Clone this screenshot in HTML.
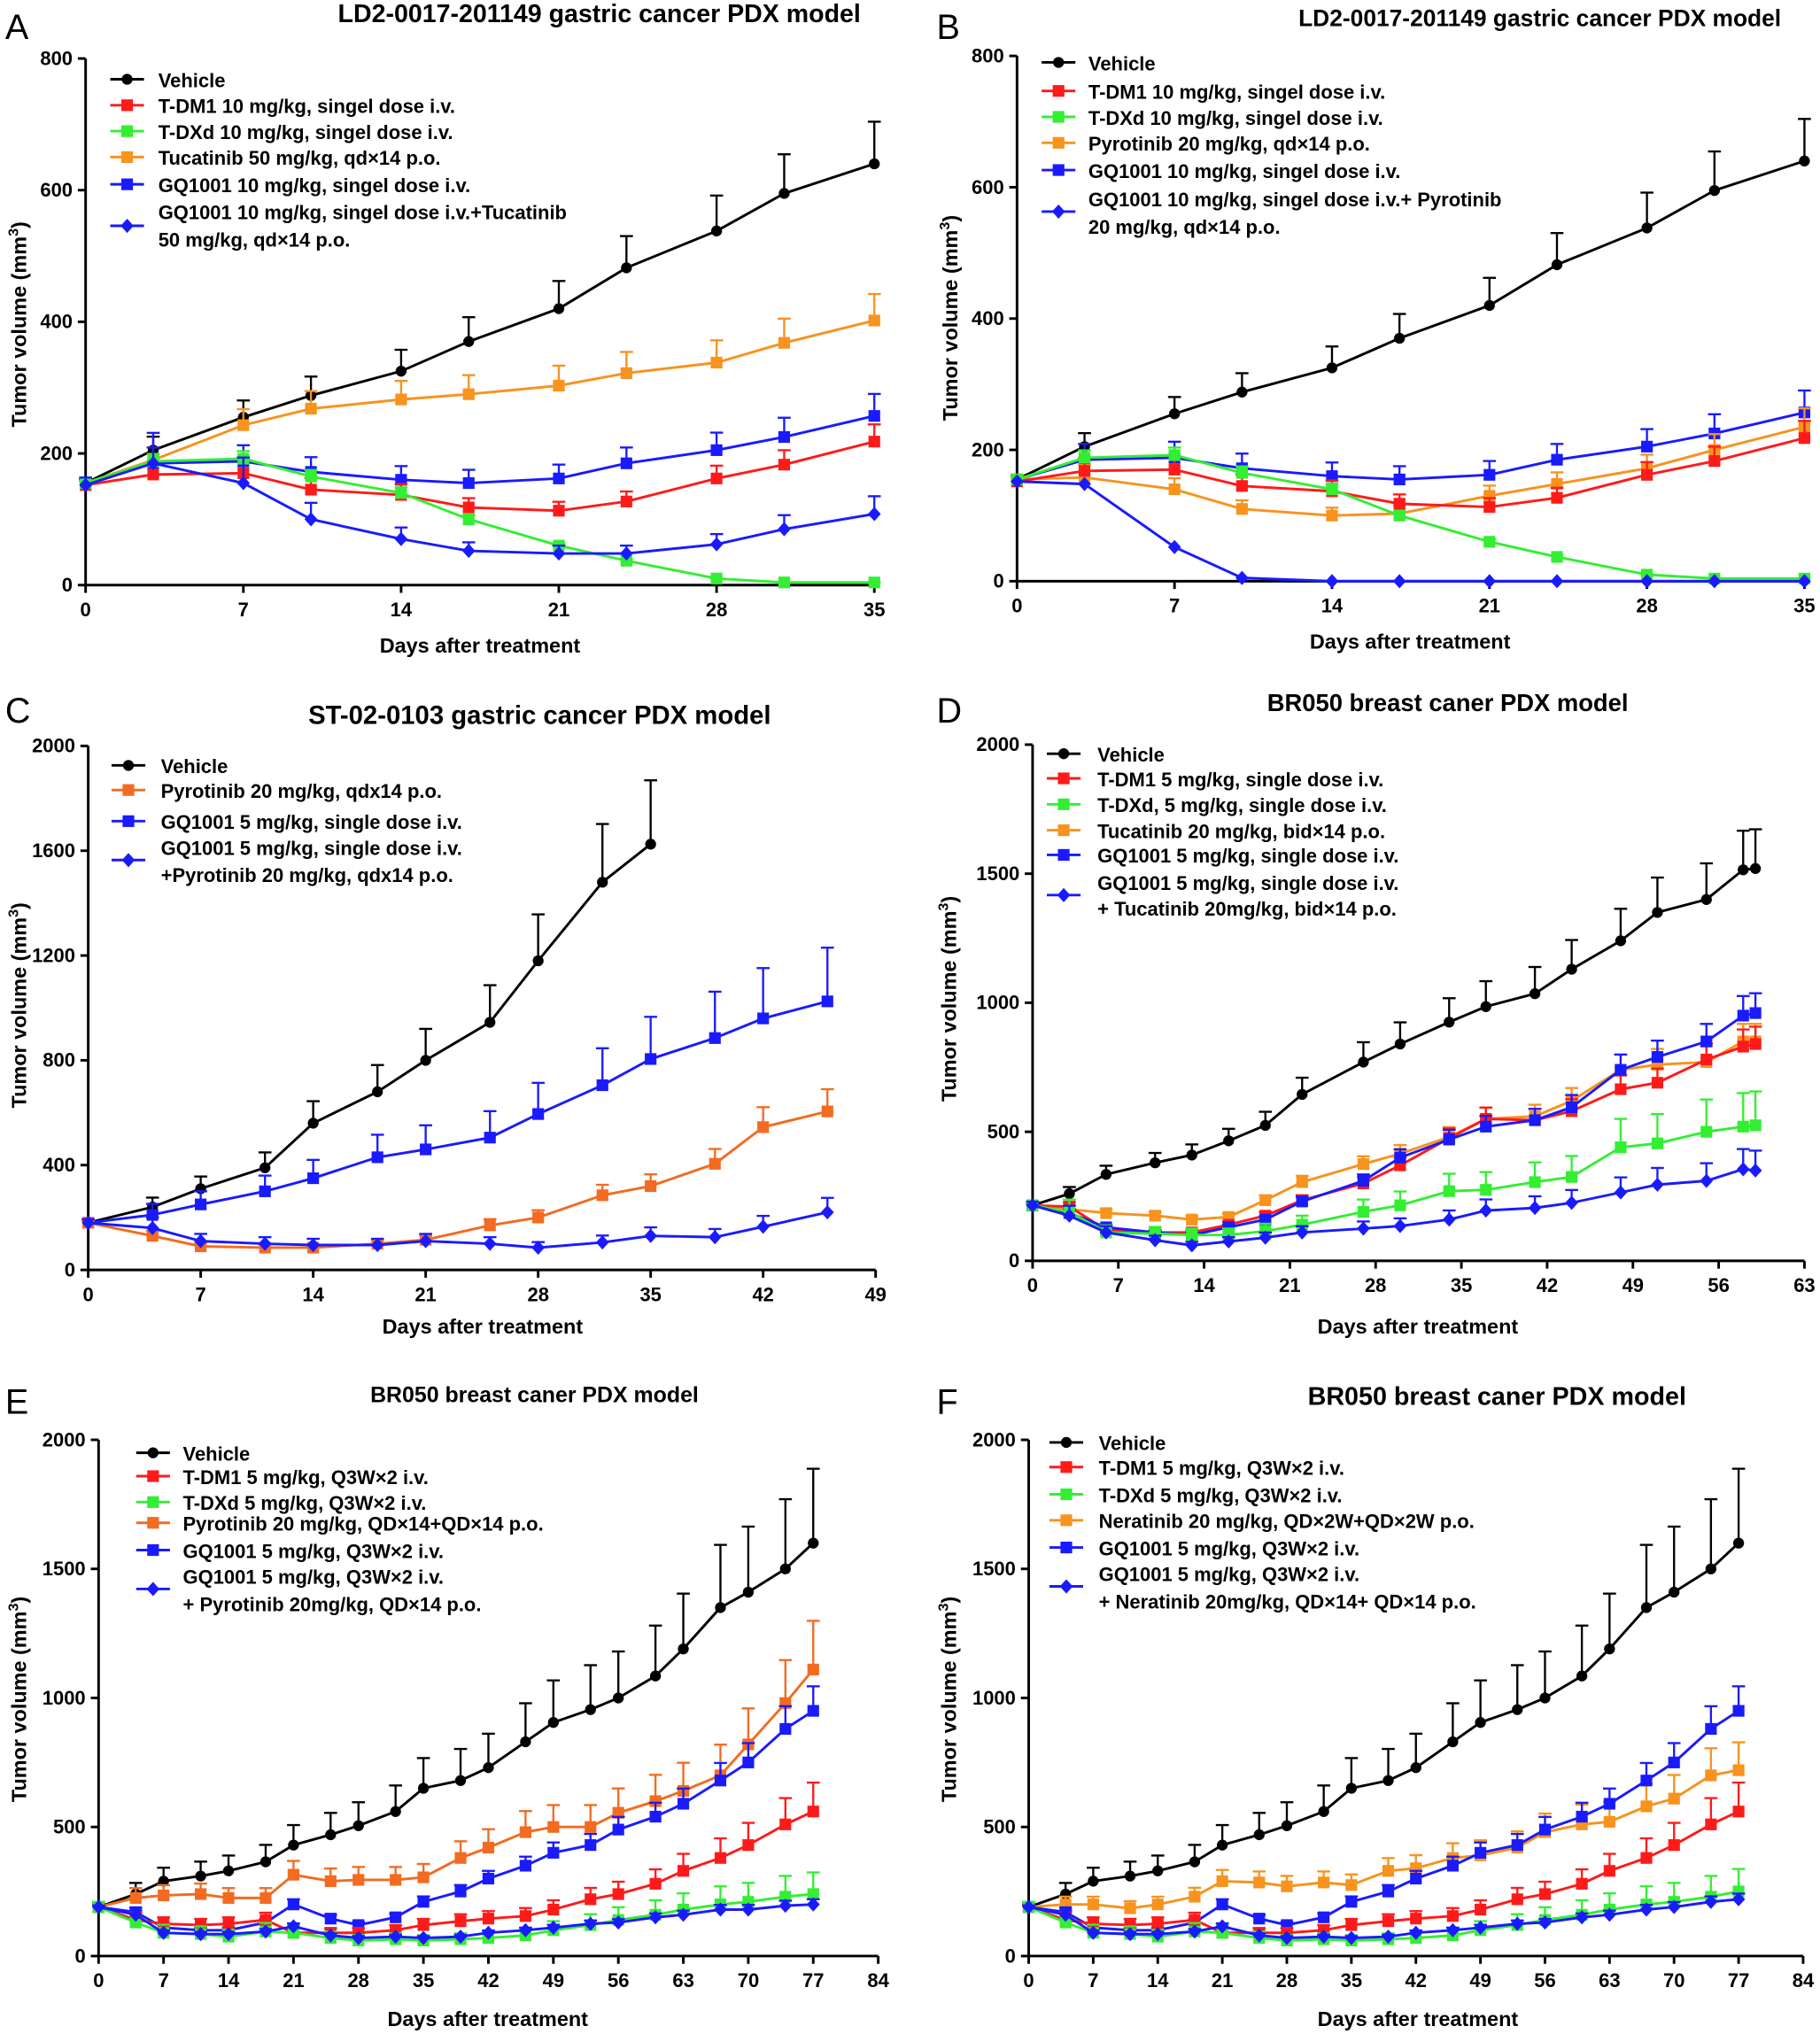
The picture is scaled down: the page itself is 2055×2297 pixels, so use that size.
<!DOCTYPE html>
<html><head><meta charset="utf-8"><style>
html,body{margin:0;padding:0;background:#fff}
svg{display:block}
text{font-family:"Liberation Sans",Arial,sans-serif;font-weight:bold;fill:#000}
.t{font-size:15px}
.tk{font-size:15px}
.ti{font-size:17.5px}
.ax{font-size:16px}
.lt{font-size:27px;font-weight:normal}
</style></head><body>
<svg id="s" width="2055" height="2297" viewBox="0 0 1403 1568" xmlns="http://www.w3.org/2000/svg">
<g id="g"></g>
<text class="lt" x="4" y="30">A</text>
<text class="lt" x="722" y="30">B</text>
<text class="lt" x="4" y="557">C</text>
<text class="lt" x="722" y="557">D</text>
<text class="lt" x="4" y="1090">E</text>
<text class="lt" x="722" y="1090">F</text>
<text class="ti" x="462" y="17" text-anchor="middle" style="font-size:19.5px">LD2-0017-201149 gastric cancer PDX model</text>
<text class="ti" x="1187" y="20" text-anchor="middle" style="font-size:18px">LD2-0017-201149 gastric cancer PDX model</text>
<text class="ti" x="416" y="558" text-anchor="middle" style="font-size:20px">ST-02-0103 gastric cancer PDX model</text>
<text class="ti" x="1116" y="548" text-anchor="middle" style="font-size:18.7px">BR050 breast caner PDX model</text>
<text class="ti" x="412" y="1081" text-anchor="middle" style="font-size:17px">BR050 breast caner PDX model</text>
<text class="ti" x="1154" y="1083" text-anchor="middle" style="font-size:19.6px">BR050 breast caner PDX model</text>
<text class="ax" x="370" y="503" text-anchor="middle">Days after treatment</text>
<text class="ax" x="1087" y="500" text-anchor="middle">Days after treatment</text>
<text class="ax" x="372" y="1028" text-anchor="middle">Days after treatment</text>
<text class="ax" x="1093" y="1028" text-anchor="middle">Days after treatment</text>
<text class="ax" x="376" y="1562" text-anchor="middle">Days after treatment</text>
<text class="ax" x="1093" y="1562" text-anchor="middle">Days after treatment</text>
<text class="ax" transform="translate(20,250) rotate(-90)" text-anchor="middle">Tumor volume (mm<tspan dy="-6" font-size="11">3</tspan><tspan dy="6">)</tspan></text>
<text class="ax" transform="translate(738,245) rotate(-90)" text-anchor="middle">Tumor volume (mm<tspan dy="-6" font-size="11">3</tspan><tspan dy="6">)</tspan></text>
<text class="ax" transform="translate(20,775) rotate(-90)" text-anchor="middle">Tumor volume (mm<tspan dy="-6" font-size="11">3</tspan><tspan dy="6">)</tspan></text>
<text class="ax" transform="translate(737,770) rotate(-90)" text-anchor="middle">Tumor volume (mm<tspan dy="-6" font-size="11">3</tspan><tspan dy="6">)</tspan></text>
<text class="ax" transform="translate(20,1310) rotate(-90)" text-anchor="middle">Tumor volume (mm<tspan dy="-6" font-size="11">3</tspan><tspan dy="6">)</tspan></text>
<text class="ax" transform="translate(737,1310) rotate(-90)" text-anchor="middle">Tumor volume (mm<tspan dy="-6" font-size="11">3</tspan><tspan dy="6">)</tspan></text>
<g class="tk" text-anchor="middle">
<text x="66" y="475">0</text><text x="187.6" y="475">7</text><text x="309.2" y="475">14</text><text x="430.8" y="475">21</text><text x="552.4" y="475">28</text><text x="674" y="475">35</text>
<text x="784" y="472">0</text><text x="905.4" y="472">7</text><text x="1026.8" y="472">14</text><text x="1148.2" y="472">21</text><text x="1269.6" y="472">28</text><text x="1391" y="472">35</text>
<text x="68" y="1003">0</text><text x="154.7" y="1003">7</text><text x="241.4" y="1003">14</text><text x="328.1" y="1003">21</text><text x="414.9" y="1003">28</text><text x="501.6" y="1003">35</text><text x="588.3" y="1003">42</text><text x="675" y="1003">49</text>
<text x="796" y="996">0</text><text x="862.1" y="996">7</text><text x="928.2" y="996">14</text><text x="994.3" y="996">21</text><text x="1060.4" y="996">28</text><text x="1126.6" y="996">35</text><text x="1192.7" y="996">42</text><text x="1258.8" y="996">49</text><text x="1324.9" y="996">56</text><text x="1391" y="996">63</text>
<text x="76" y="1532">0</text><text x="126.1" y="1532">7</text><text x="176.2" y="1532">14</text><text x="226.3" y="1532">21</text><text x="276.3" y="1532">28</text><text x="326.4" y="1532">35</text><text x="376.5" y="1532">42</text><text x="426.6" y="1532">49</text><text x="476.7" y="1532">56</text><text x="526.8" y="1532">63</text><text x="576.9" y="1532">70</text><text x="626.9" y="1532">77</text><text x="677" y="1532">84</text>
<text x="793" y="1532">0</text><text x="842.75" y="1532">7</text><text x="892.5" y="1532">14</text><text x="942.25" y="1532">21</text><text x="992" y="1532">28</text><text x="1041.75" y="1532">35</text><text x="1091.5" y="1532">42</text><text x="1141.25" y="1532">49</text><text x="1191" y="1532">56</text><text x="1240.75" y="1532">63</text><text x="1290.5" y="1532">70</text><text x="1340.25" y="1532">77</text><text x="1390" y="1532">84</text>
</g>
<g class="tk" text-anchor="end">
<text x="56" y="456">0</text><text x="56" y="354.5">200</text><text x="56" y="253">400</text><text x="56" y="151.5">600</text><text x="56" y="50">800</text>
<text x="774" y="453">0</text><text x="774" y="351.75">200</text><text x="774" y="250.5">400</text><text x="774" y="149.25">600</text><text x="774" y="48">800</text>
<text x="58" y="984">0</text><text x="58" y="903.2">400</text><text x="58" y="822.4">800</text><text x="58" y="741.6">1200</text><text x="58" y="660.8">1600</text><text x="58" y="580">2000</text>
<text x="786" y="977">0</text><text x="786" y="877.5">500</text><text x="786" y="778">1000</text><text x="786" y="678.5">1500</text><text x="786" y="579">2000</text>
<text x="66" y="1513">0</text><text x="66" y="1413.5">500</text><text x="66" y="1314">1000</text><text x="66" y="1214.5">1500</text><text x="66" y="1115">2000</text>
<text x="783" y="1513">0</text><text x="783" y="1413.5">500</text><text x="783" y="1314">1000</text><text x="783" y="1214.5">1500</text><text x="783" y="1115">2000</text>
</g>
<g class="t">
<text x="122" y="67">Vehicle</text><text x="122" y="87">T-DM1 10 mg/kg, singel dose i.v.</text><text x="122" y="107">T-DXd 10 mg/kg, singel dose i.v.</text><text x="122" y="127">Tucatinib 50 mg/kg, qd×14 p.o.</text><text x="122" y="148">GQ1001 10 mg/kg, singel dose i.v.</text><text x="122" y="169">GQ1001 10 mg/kg, singel dose i.v.+Tucatinib</text><text x="122" y="190">50 mg/kg,  qd×14 p.o.</text>
<text x="839" y="54">Vehicle</text><text x="839" y="76">T-DM1 10 mg/kg, singel dose i.v.</text><text x="839" y="96">T-DXd 10 mg/kg, singel dose i.v.</text><text x="839" y="116">Pyrotinib 20 mg/kg,  qd×14 p.o.</text><text x="839" y="137">GQ1001 10 mg/kg, singel dose i.v.</text><text x="839" y="159">GQ1001 10 mg/kg, singel dose i.v.+ Pyrotinib</text><text x="839" y="180">20 mg/kg,  qd×14 p.o.</text>
<text x="124" y="596">Vehicle</text><text x="124" y="615">Pyrotinib 20 mg/kg, qdx14 p.o.</text><text x="124" y="639">GQ1001 5 mg/kg, single dose i.v.</text><text x="124" y="659">GQ1001 5 mg/kg, single dose i.v.</text><text x="124" y="680">+Pyrotinib 20 mg/kg, qdx14 p.o.</text>
<text x="846" y="587">Vehicle</text><text x="846" y="606">T-DM1 5 mg/kg, single dose i.v.</text><text x="846" y="626">T-DXd, 5 mg/kg, single dose i.v.</text><text x="846" y="646">Tucatinib 20 mg/kg, bid×14 p.o.</text><text x="846" y="665">GQ1001 5 mg/kg, single dose i.v.</text><text x="846" y="686">GQ1001 5 mg/kg, single dose i.v.</text><text x="846" y="706">+ Tucatinib 20mg/kg, bid×14 p.o.</text>
<text x="141" y="1126">Vehicle</text><text x="141" y="1144">T-DM1 5 mg/kg, Q3W×2 i.v.</text><text x="141" y="1164">T-DXd 5 mg/kg, Q3W×2 i.v.</text><text x="141" y="1180">Pyrotinib 20 mg/kg, QD×14+QD×14 p.o.</text><text x="141" y="1201">GQ1001 5 mg/kg, Q3W×2 i.v.</text><text x="141" y="1221">GQ1001 5 mg/kg, Q3W×2 i.v.</text><text x="141" y="1242">+ Pyrotinib 20mg/kg, QD×14 p.o.</text>
<text x="847" y="1118">Vehicle</text><text x="847" y="1137">T-DM1 5 mg/kg, Q3W×2 i.v.</text><text x="847" y="1158">T-DXd 5 mg/kg, Q3W×2 i.v.</text><text x="847" y="1178">Neratinib 20 mg/kg, QD×2W+QD×2W p.o.</text><text x="847" y="1199">GQ1001 5 mg/kg, Q3W×2 i.v.</text><text x="847" y="1219">GQ1001 5 mg/kg, Q3W×2 i.v.</text><text x="847" y="1240">+ Neratinib 20mg/kg, QD×14+ QD×14 p.o.</text>
</g>
</svg>
<script>
var NS="http://www.w3.org/2000/svg",G=document.getElementById('g');
function el(t,a){var e=document.createElementNS(NS,t);for(var k in a)e.setAttribute(k,a[k]);G.appendChild(e);return e;}
var K='#000',R='#ff1a1a',Gr='#33ee33',O='#f7931e',O2='#f26b21',B='#1a1aff';
function marker(type,x,y,c,s){s=s||1;
 if(type=='c')el('circle',{cx:x,cy:y,r:4.2*s,fill:c});
 else if(type=='s')el('rect',{x:x-4.5*s,y:y-4.5*s,width:9*s,height:9*s,fill:c});
 else el('polygon',{points:[x,y-5.5*s,x+5*s,y,x,y+5.5*s,x-5*s,y].join(' '),fill:c});}
function panel(p){
 var X=function(d){return p.x0+d*(p.x1-p.x0)/p.xmax},Y=function(v){return p.y0-v*(p.y0-p.y1)/p.ymax};
 el('line',{x1:p.x0,y1:p.y0,x2:p.x1,y2:p.y0,stroke:'#000','stroke-width':2});
 el('line',{x1:p.x0,y1:p.y0+1,x2:p.x0,y2:p.y1,stroke:'#000','stroke-width':2});
 for(var d=0;d<=p.xmax;d+=p.xs)el('line',{x1:X(d),y1:p.y0,x2:X(d),y2:p.y0+6,stroke:'#000','stroke-width':2});
 for(var v=0;v<=p.ymax;v+=p.ys)el('line',{x1:p.x0-6,y1:Y(v),x2:p.x0,y2:Y(v),stroke:'#000','stroke-width':2});
 p.series.forEach(function(s){
  var pts=[];
  s.v.forEach(function(v,i){var d=p.days[i];pts.push(X(d)+','+Y(v));
   var e=v*s.e*(i==0?0.3:1); if(s.e>0&&e>0){var yt=Y(v+e);el('line',{x1:X(d),y1:Y(v),x2:X(d),y2:yt,stroke:s.c,'stroke-width':1.6});el('line',{x1:X(d)-5,y1:yt,x2:X(d)+5,y2:yt,stroke:s.c,'stroke-width':1.6});}});
  el('polyline',{points:pts.join(' '),fill:'none',stroke:s.c,'stroke-width':2});
  s.v.forEach(function(v,i){marker(s.m,X(p.days[i]),Y(v),s.c);});
 });
 p.leg.forEach(function(l){el('line',{x1:l[0]-13,y1:l[1],x2:l[0]+13,y2:l[1],stroke:l[3],'stroke-width':2});marker(l[2],l[0],l[1],l[3]);});
}
var dA=[0,3,7,10,14,17,21,24,28,31,35];
panel({x0:66,x1:674,xmax:35,xs:7,y0:451,y1:45,ymax:800,ys:200,days:dA,series:[
 {c:K,m:'c',e:.1,v:[155,205,255,288,325,370,420,482,538,595,640]},
 {c:O,m:'s',e:.1,v:[155,190,243,268,282,290,303,322,338,368,402]},
 {c:B,m:'s',e:.13,v:[155,185,188,172,160,155,162,185,205,225,257]},
 {c:R,m:'s',e:.12,v:[152,168,170,145,137,118,113,127,162,183,218]},
 {c:Gr,m:'s',e:.06,v:[155,188,192,165,140,100,60,37,10,4,4]},
 {c:B,m:'d',e:.25,v:[152,185,155,100,70,52,48,48,62,85,108]}],
 leg:[[98,61,'c',K],[98,81,'s',R],[98,101,'s',Gr],[98,121,'s',O],[98,142,'s',B],[98,174,'d',B]]});
panel({x0:784,x1:1391,xmax:35,xs:7,y0:448,y1:43,ymax:800,ys:200,days:dA,series:[
 {c:K,m:'c',e:.1,v:[155,205,255,288,325,370,420,482,538,595,640]},
 {c:B,m:'s',e:.13,v:[155,185,188,172,160,155,162,185,205,225,257]},
 {c:O,m:'s',e:.12,v:[155,158,140,110,100,103,130,148,172,200,235]},
 {c:R,m:'s',e:.12,v:[152,168,170,145,137,118,113,127,162,183,218]},
 {c:Gr,m:'s',e:.06,v:[155,188,192,165,140,100,60,37,10,4,4]},
 {c:B,m:'d',e:0,v:[152,148,52,5,0,0,0,0,0,0,0]}],
 leg:[[816,48,'c',K],[816,70,'s',R],[816,90,'s',Gr],[816,110,'s',O],[816,131,'s',B],[816,163,'d',B]]});
var dC=[0,4,7,11,14,18,21,25,28,32,35,39,42,46];
panel({x0:68,x1:675,xmax:49,xs:7,y0:979,y1:575,ymax:2000,ys:400,days:dC,series:[
 {c:K,m:'c',e:.15,v:[180,240,310,390,560,680,800,945,1180,1480,1625]},
 {c:B,m:'s',e:.2,v:[180,210,250,300,350,430,460,505,595,705,805,885,960,1025]},
 {c:O2,m:'s',e:.14,v:[180,130,90,85,85,100,115,170,200,285,320,405,545,605]},
 {c:B,m:'d',e:.25,v:[180,160,110,100,95,95,110,100,85,105,130,125,165,220]}],
 leg:[[99,590,'c',K],[99,609,'s',O2],[99,633,'s',B],[99,663,'d',B]]});
var dD=[0,3,6,10,13,16,19,22,27,30,34,37,41,44,48,51,55,58,59];
panel({x0:796,x1:1391,xmax:63,xs:7,y0:972,y1:574,ymax:2000,ys:500,days:dD,series:[
 {c:K,m:'c',e:.1,v:[215,260,335,380,410,465,525,645,770,840,925,985,1035,1130,1240,1350,1400,1515,1520]},
 {c:O,m:'s',e:.08,v:[215,200,185,175,160,170,235,305,375,415,480,550,560,620,740,760,770,850,850]},
 {c:R,m:'s',e:.08,v:[215,210,120,110,110,140,175,235,300,370,475,550,545,580,665,690,780,830,840]},
 {c:B,m:'s',e:.08,v:[215,185,130,110,100,130,160,230,310,400,470,520,545,595,740,790,850,950,960]},
 {c:Gr,m:'s',e:.25,v:[215,190,110,105,100,100,115,140,190,215,270,275,305,325,440,455,500,520,525]},
 {c:B,m:'d',e:.22,v:[215,175,110,80,60,75,90,110,125,135,160,195,205,225,265,295,310,355,350]}],
 leg:[[820,581,'c',K],[820,600,'s',R],[820,620,'s',Gr],[820,640,'s',O],[820,659,'s',B],[820,690,'d',B]]});
var dE=[0,4,7,11,14,18,21,25,28,32,35,39,42,46,49,53,56,60,63,67,70,74,77];
var veh=[190,240,290,310,330,365,430,470,505,560,650,680,730,830,905,955,1000,1085,1190,1350,1410,1500,1600],
 blu=[190,170,110,100,100,130,200,145,120,150,210,250,300,350,400,430,490,540,590,680,750,880,950],
 red=[190,140,125,120,125,140,90,90,90,100,120,135,145,155,180,220,240,280,330,380,430,510,560];
panel({x0:76,x1:677,xmax:84,xs:7,y0:1508,y1:1110,ymax:2000,ys:500,days:dE,series:[
 {c:K,m:'c',e:.18,v:veh},
 {c:O2,m:'s',e:.17,v:[190,225,235,240,225,225,315,290,295,295,305,380,420,480,500,500,555,600,640,700,820,980,1110]},
 {c:B,m:'s',e:.1,v:blu},
 {c:R,m:'s',e:.2,v:red},
 {c:Gr,m:'s',e:.35,v:[190,130,90,85,75,95,90,70,60,65,60,65,70,80,100,120,140,160,180,200,210,230,240]},
 {c:B,m:'d',e:.1,v:[190,160,90,85,85,95,115,80,70,75,70,75,90,100,110,125,130,150,160,180,180,195,200]}],
 leg:[[118,1120,'c',K],[118,1138,'s',R],[118,1158,'s',Gr],[118,1174,'s',O2],[118,1195,'s',B],[118,1225,'d',B]]});
panel({x0:793,x1:1390,xmax:84,xs:7,y0:1508,y1:1110,ymax:2000,ys:500,days:dE,series:[
 {c:K,m:'c',e:.18,v:veh},
 {c:O,m:'s',e:.15,v:[190,200,200,185,200,230,290,285,270,285,275,330,340,380,390,420,480,510,520,580,610,700,720]},
 {c:B,m:'s',e:.1,v:blu},
 {c:R,m:'s',e:.2,v:red},
 {c:Gr,m:'s',e:.35,v:[190,130,90,85,75,95,90,70,60,65,60,65,70,80,100,120,140,160,180,200,210,230,250]},
 {c:B,m:'d',e:.1,v:[190,160,90,85,85,95,115,80,70,75,70,75,90,100,110,125,130,150,160,180,190,210,220]}],
 leg:[[822,1112,'c',K],[822,1131,'s',R],[822,1152,'s',Gr],[822,1172,'s',O],[822,1193,'s',B],[822,1223,'d',B]]});
</script>
</body></html>
